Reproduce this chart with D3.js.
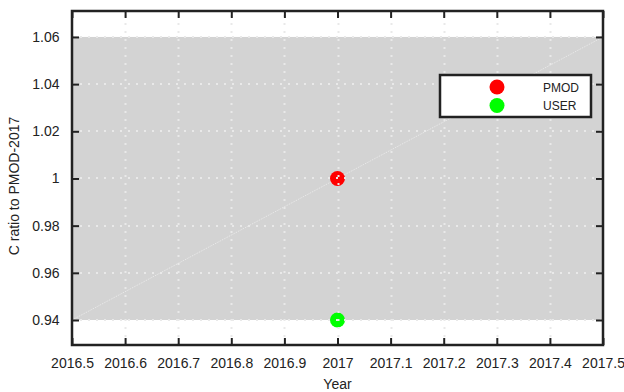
<!DOCTYPE html>
<html>
<head>
<meta charset="utf-8">
<script src="https://cdn.jsdelivr.net/npm/d3@7"></script>
<style>
  body { margin: 0; background: #fff; }
  svg { display: block; font-family: "Liberation Sans", Arial, sans-serif; }
</style>
</head>
<body>
<svg id="chart" width="624" height="392"></svg>
<script>
// Observation years and ratios for each series
const years = [2017];
const pmodRatio = [1.0];
const userRatio = [0.94];
const seriesNames = ["PMOD", "USER"];
const seriesColors = ["#ff0000", "#00ff00"];
// Tolerance band and reference trend
const bandRange = [0.94, 1.06];
const trendX = [2016.5, 2017.5];
const trendY = [0.94, 1.06];
const xTicks = [2016.5, 2016.6, 2016.7, 2016.8, 2016.9, 2017, 2017.1, 2017.2, 2017.3, 2017.4, 2017.5];
const yTicks = [0.94, 0.96, 0.98, 1.0, 1.02, 1.04, 1.06];

const svg = d3.select("#chart");
const plotLeft = 72, plotRight = 603, plotTop = 11, plotBottom = 345;

const x = d3.scaleLinear().domain([2016.5, 2017.5]).range([plotLeft, plotRight]);
const y = d3.scaleLinear().domain([0.9294, 1.0710]).range([plotBottom, plotTop]);

// Shaded band
svg.append("rect")
  .attr("x", plotLeft).attr("width", plotRight - plotLeft)
  .attr("y", y(bandRange[1])).attr("height", y(bandRange[0]) - y(bandRange[1]))
  .attr("fill", "#d3d3d3");

// Trend line
svg.append("line")
  .attr("x1", x(trendX[0])).attr("y1", y(trendY[0]))
  .attr("x2", x(trendX[1])).attr("y2", y(trendY[1]))
  .attr("stroke", "#ececec").attr("stroke-width", 1)
  .attr("stroke-dasharray", "1,1");

// Data markers
const series = [pmodRatio, userRatio];
series.forEach((vals, i) => {
  svg.append("g").selectAll("circle")
    .data(years.map((yr, j) => [yr, vals[j]]))
    .join("circle")
    .attr("cx", d => x(d[0])).attr("cy", d => y(d[1]))
    .attr("r", 7.5)
    .attr("fill", seriesColors[i]);
});

// Dotted grid on top
const grid = svg.append("g").attr("stroke", "#e9e9e9").attr("stroke-width", 2)
  .attr("stroke-dasharray", "2,6");
grid.selectAll(".gx").data(xTicks.slice(1, -1)).join("line")
  .attr("x1", d => Math.round(x(d)) + 0.5).attr("x2", d => Math.round(x(d)) + 0.5)
  .attr("y1", plotBottom).attr("y2", plotTop);
grid.selectAll(".gy").data(yTicks).join("line")
  .attr("y1", d => Math.round(y(d))).attr("y2", d => Math.round(y(d)))
  .attr("x1", plotLeft).attr("x2", plotRight);

// Axes with inward ticks
const axisColor = "#222";
const fmtX = d => d3.format(".1f")(d).replace(/\.0$/, "");
const fmtY = d => d === 1 ? "1" : d3.format(".2f")(d);

const gx = svg.append("g").attr("transform", `translate(0,${plotBottom})`)
  .call(d3.axisBottom(x).tickValues(xTicks).tickSizeInner(-7).tickSizeOuter(0).tickPadding(13).tickFormat(fmtX));
const gxTop = svg.append("g").attr("transform", `translate(0,${plotTop})`)
  .call(d3.axisTop(x).tickValues(xTicks).tickSizeInner(-7).tickSizeOuter(0).tickFormat(""));
const gy = svg.append("g").attr("transform", `translate(${plotLeft},0)`)
  .call(d3.axisLeft(y).tickValues(yTicks).tickSizeInner(-7).tickSizeOuter(0).tickPadding(12.5).tickFormat(fmtY));
const gyRight = svg.append("g").attr("transform", `translate(${plotRight},0)`)
  .call(d3.axisRight(y).tickValues(yTicks).tickSizeInner(-7).tickSizeOuter(0).tickFormat(""));

[gx, gxTop, gy, gyRight].forEach(g => {
  g.select(".domain").remove();
  g.selectAll(".tick line").attr("stroke", axisColor).attr("stroke-width", 2);
  g.selectAll(".tick text").attr("fill", "#222").style("font-size", "14px");
});

// Frame
svg.append("rect")
  .attr("x", plotLeft).attr("y", plotTop).attr("width", plotRight - plotLeft).attr("height", plotBottom - plotTop)
  .attr("fill", "none").attr("stroke", axisColor).attr("stroke-width", 2.5);

// Axis titles
svg.append("text").attr("x", (plotLeft + plotRight) / 2).attr("y", 389)
  .attr("text-anchor", "middle").style("font-size", "14px").attr("fill", "#222").text("Year");
svg.append("text").attr("transform", "translate(19,186) rotate(-90)")
  .attr("text-anchor", "middle").style("font-size", "14px").attr("fill", "#222").text("C ratio to PMOD-2017");

// Legend
const lg = svg.append("g");
lg.append("rect").attr("x", 440).attr("y", 75).attr("width", 151).attr("height", 42)
  .attr("fill", "#fff").attr("stroke", axisColor).attr("stroke-width", 2.5);
seriesNames.forEach((name, i) => {
  const cy = 87 + i * 18.5;
  lg.append("circle").attr("cx", 497).attr("cy", cy).attr("r", 7.5).attr("fill", seriesColors[i]);
  lg.append("text").attr("x", 543).attr("y", cy + 4.5).style("font-size", "12px")
    .attr("fill", "#222").text(name);
});
</script>
</body>
</html>
